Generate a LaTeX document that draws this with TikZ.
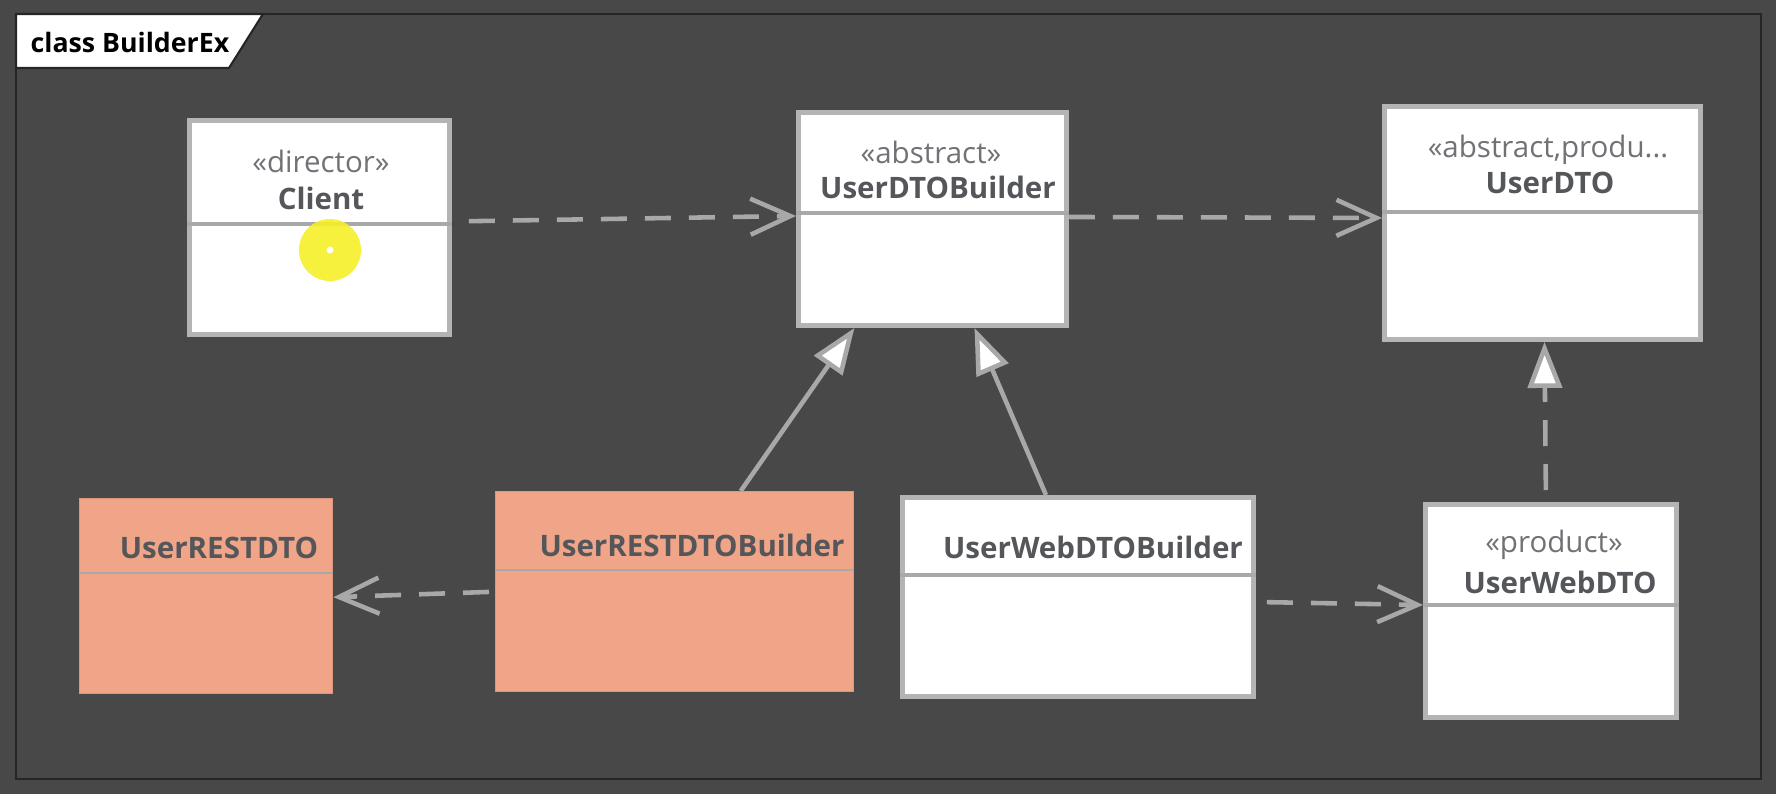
\documentclass[tikz,border=0pt]{standalone}
\usepackage{fontspec}
\setmainfont{Open Sans}
\usepackage{tikz}
\usetikzlibrary{calc,arrows.meta}
\definecolor{fond}{RGB}{72,72,72}
\definecolor{trait}{RGB}{168,168,168}
\definecolor{bord}{RGB}{180,180,180}
\definecolor{saumon}{RGB}{240,164,136}
\definecolor{nom}{RGB}{84,86,90}
\definecolor{stereo}{RGB}{112,114,118}
\definecolor{jaune}{RGB}{246,240,40}
\tikzstyle{classe} = [rectangle, draw=bord, line width=1.4pt, fill=white, anchor=north west, inner sep=0pt]
\tikzstyle{saumonee} = [rectangle, draw=saumon!92!black, line width=0.4pt, fill=saumon, anchor=north west, inner sep=0pt]
\tikzstyle{stereotype} = [text=stereo, font=\fontsize{8.4}{10}\selectfont, inner sep=0pt]
\tikzstyle{nomclasse} = [text=nom, font=\fontsize{8.4}{10}\selectfont\bfseries, inner sep=0pt]
\tikzstyle{separation} = [draw=trait, line width=1.2pt]
\tikzstyle{dependance} = [draw=trait, line width=1.3pt, dash pattern=on 2.6mm off 1.8mm, -{Straight Barb[length=4mm, width=3.6mm]}]
\tikzstyle{heritage} = [draw=trait, line width=1.3pt, -{Triangle[length=4.6mm, width=3.4mm, fill=white]}]
\tikzstyle{realisation} = [heritage, dash pattern=on 2.6mm off 1.8mm]

\begin{document}
\begin{tikzpicture}

        % fond et cadre
        \fill[fond] (0,0) rectangle (17.76,-7.94);
        \draw[black!85, line width=0.6pt] (0.16,-0.14) rectangle (17.61,-7.79);
        \filldraw[fill=white, draw=black!85, line width=0.6pt] (0.16,-0.14) -- (2.63,-0.14) -- (2.29,-0.68) -- (0.16,-0.68) -- cycle;
        \node (T) [anchor=west, inner sep=0pt, font=\fontsize{7.6}{9}\selectfont\bfseries] at (0.30,-0.42) {class BuilderEx};

        % classes du haut
        \node (CL) [classe, minimum width=2.60cm, minimum height=2.14cm] at (1.87,-1.18) {};
        \node [stereotype] at (3.21,-1.61) {«director»};
        \node [nomclasse] at (3.21,-1.98) {Client};
        \draw[separation] ($(CL.north west) + (0,-1.06)$) -- ($(CL.north east) + (0,-1.06)$);

        \node (UB) [classe, minimum width=2.68cm, minimum height=2.13cm] at (7.96,-1.10) {};
        \node [stereotype] at (9.31,-1.52) {«abstract»};
        \node [nomclasse] at (9.38,-1.87) {UserDTOBuilder};
        \draw[separation] ($(UB.north west) + (0,-1.03)$) -- ($(UB.north east) + (0,-1.03)$);

        \node (UD) [classe, minimum width=3.16cm, minimum height=2.33cm] at (13.82,-1.04) {};
        \node [stereotype] at (15.48,-1.50) {«abstract,produ...};
        \node [nomclasse] at (15.50,-1.83) {UserDTO};
        \draw[separation] ($(UD.north west) + (0,-1.08)$) -- ($(UD.north east) + (0,-1.08)$);

        % classes du bas
        \node (RD) [saumonee, minimum width=2.53cm, minimum height=1.95cm] at (0.79,-4.98) {};
        \node [nomclasse] at (2.19,-5.48) {UserRESTDTO};
        \draw[separation, line width=0.6pt] ($(RD.north west) + (0,-0.75)$) -- ($(RD.north east) + (0,-0.75)$);

        \node (RB) [saumonee, minimum width=3.58cm, minimum height=2.00cm] at (4.95,-4.91) {};
        \node [nomclasse] at (6.92,-5.45) {UserRESTDTOBuilder};
        \draw[separation, line width=0.6pt] ($(RB.north west) + (0,-0.79)$) -- ($(RB.north east) + (0,-0.79)$);

        \node (WB) [classe, minimum width=3.51cm, minimum height=1.99cm] at (9.00,-4.95) {};
        \node [nomclasse] at (10.93,-5.47) {UserWebDTOBuilder};
        \draw[separation] ($(WB.north west) + (0,-0.80)$) -- ($(WB.north east) + (0,-0.80)$);

        \node (WD) [classe, minimum width=2.51cm, minimum height=2.13cm] at (14.23,-5.02) {};
        \node [stereotype] at (15.54,-5.45) {«product»};
        \node [nomclasse] at (15.60,-5.82) {UserWebDTO};
        \draw[separation] ($(WD.north west) + (0,-1.03)$) -- ($(WD.north east) + (0,-1.03)$);

        % liens
        \draw[dependance, shorten <=1.7mm] ([yshift=0.6mm]CL.east) -- ([yshift=0.3mm]UB.west);
        \draw[dependance] ([yshift=0.2mm]UB.east) -- ([yshift=0.5mm]UD.west);
        \draw[dependance, shorten <=0.6mm] (RB.west) -- ([yshift=-0.1mm]RD.east);
        \draw[dependance, shorten <=1.1mm] ([yshift=-0.5mm]WB.east) -- ([yshift=0.6mm]WD.west);
        \draw[heritage] ([xshift=6.6mm]RB.north) -- ([xshift=-7.8mm]UB.south);
        \draw[heritage] ([xshift=-3.2mm]WB.north) -- ([xshift=4.2mm]UB.south);
        \draw[realisation, shorten <=1.2mm] ([xshift=-0.5mm]WD.north) -- ([xshift=0.2mm]UD.south);

        % curseur
        \fill[jaune, opacity=0.9] (3.30,-2.50) circle (0.31);
        \fill[white] (3.30,-2.50) circle (0.035);

    \end{tikzpicture}
\end{document}
